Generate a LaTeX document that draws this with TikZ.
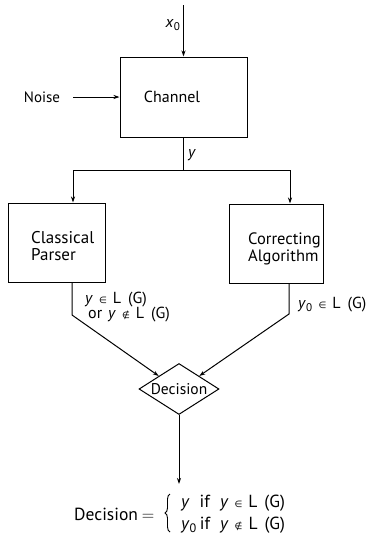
\documentclass[tikz,border=0pt]{standalone}
\usepackage{fontspec}
\setmainfont{PT Sans}
\newfontfamily\symfont{DejaVu Sans}
\usetikzlibrary{shapes.geometric,arrows.meta,decorations.pathreplacing}
\newcommand{\vy}{\textit{y}}
\newcommand{\isin}{{\symfont\small ∈}}
\newcommand{\notisin}{{\symfont\small ∉}}
\newcommand{\gap}{\hspace{6pt}}
\newcommand{\lang}{L\hspace{7pt}(G)}
\tikzset{
  every node/.style={font=\fontsize{15}{18}\selectfont},
  block/.style={draw, line width=1pt, rectangle, inner sep=0pt},
  boxtext/.style={font=\fontsize{17}{17}\selectfont, inner sep=0pt, align=left},
  lbl/.style={font=\fontsize{16}{17}\selectfont, inner sep=0pt},
  rulefont/.style={font=\fontsize{17.5}{19}\selectfont, inner sep=0pt},
  flow/.style={line width=1pt, -{Stealth[length=6pt,width=4pt]}},
  wire/.style={line width=1pt}
}
\begin{document}
\begin{tikzpicture}[x=1pt,y=-1pt]
\useasboundingbox (0,0) rectangle (377,539);

% blocks
\node[block, minimum width=127pt, minimum height=80pt] (channel) at (183.5,97) {};
\node[boxtext, font=\fontsize{16}{16}\selectfont] (chtext) at (172,97) {Channel};
\node[block, minimum width=97pt, minimum height=79pt] (parser) at (56.5,242.5) {};
\node[boxtext, anchor=west] (ptext) at (31,246) {Classical\\Parser};
\node[block, minimum width=94pt, minimum height=79pt] (corr) at (276,243.5) {};
\node[boxtext, anchor=west, font=\fontsize{16.5}{17}\selectfont] (ctext) at (248,249) {Correcting\\Algorithm};
\node[draw, diamond, line width=1pt, minimum width=80pt, minimum height=51pt, inner sep=0pt] (dec) at (179,389) {};
\node[inner sep=0pt, font=\fontsize{15.5}{16}\selectfont] (dectext) at (179,389) {Decision};

% inputs
\coordinate (xin) at (183.5,5);
\node[lbl] (xlabel) at (173,25) {\textit{x}\textsubscript{0}};
\draw[flow] (xin) -- (channel.north);
\node[inner sep=0pt] (noise) at (42,97) {Noise};
\coordinate (noiseout) at (73,97);
\draw[flow] (noiseout) -- (channel.west);

% split of the channel output
\coordinate (split) at (183.5,170);
\coordinate (la) at (73,170);
\coordinate (ra) at (290,170);
\draw[wire] (channel.south) -- (split);
\node[lbl] (ylabel) at (192,155) {\vy};
\draw[wire] (la) -- (ra);
\draw[flow] (la) -- (la |- parser.north);
\draw[flow] (ra) -- (ra |- corr.north);

% results into the decision
\coordinate (lbend) at (72,315);
\coordinate (rbend) at (289,314);
\draw[flow] (lbend |- parser.south) -- (lbend) -- (dec.north west);
\draw[flow] (rbend |- corr.south) -- (rbend) -- (dec.north east);
\node[lbl, anchor=west] (plabel1) at (85,300) {\vy\gap\isin\gap\lang};
\node[lbl, anchor=west] (plabel2) at (88,315) {or\gap\vy\gap\notisin\gap\lang};
\node[lbl, anchor=west] (clabel) at (298,305) {\vy\textsubscript{0}\gap\isin\gap\lang};

% final decision
\coordinate (outend) at (179,484);
\draw[flow] (dec.south) -- (outend);
\node[rulefont, anchor=west] (rulename) at (74,514) {Decision\hspace{4pt}$=$};
\coordinate (bracebot) at (170,532);
\coordinate (bracetop) at (170,494);
\draw[line width=0.9pt, decorate, decoration={brace, amplitude=5pt, aspect=0.5}] (bracebot) -- (bracetop);
\node[rulefont, anchor=west] (case1) at (181,503) {\vy\hspace{10pt}if\hspace{10pt}\vy\gap\isin\gap\lang};
\node[rulefont, anchor=west] (case2) at (181,525) {\vy\textsubscript{0}\hspace{3pt}if\hspace{10pt}\vy\gap\notisin\gap\lang};
\end{tikzpicture}
\end{document}
